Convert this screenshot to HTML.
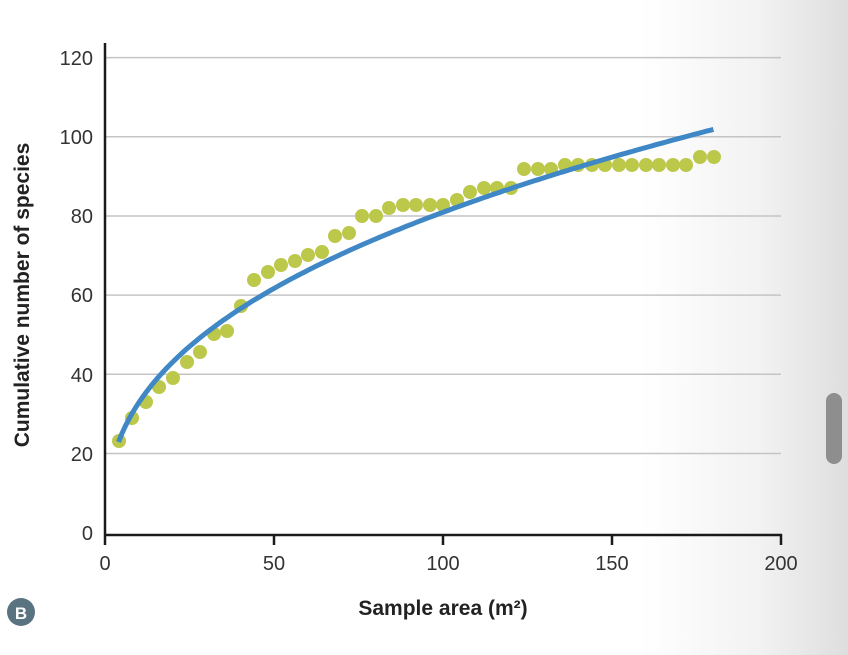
<!DOCTYPE html>
<html><head><meta charset="utf-8"><style>
html,body{margin:0;padding:0;}
body{width:848px;height:655px;overflow:hidden;background:linear-gradient(to right,#fff 0px,#fff 640px,#f2f2f2 760px,#dedede 848px);font-family:"Liberation Sans",sans-serif;}
</style></head><body>
<svg width="848" height="655" xmlns="http://www.w3.org/2000/svg" style="position:absolute;left:0;top:0">
<g stroke="#c4c4c4" stroke-width="1.5">
<line x1="105" x2="781" y1="453.5" y2="453.5"/>
<line x1="105" x2="781" y1="374.3" y2="374.3"/>
<line x1="105" x2="781" y1="295.1" y2="295.1"/>
<line x1="105" x2="781" y1="216" y2="216"/>
<line x1="105" x2="781" y1="136.8" y2="136.8"/>
<line x1="105" x2="781" y1="57.6" y2="57.6"/>
</g>
<g stroke="#1a1a1a" stroke-width="2.5" fill="none">
<line x1="105" y1="43" x2="105" y2="545"/>
<line x1="104" y1="535" x2="782" y2="535"/>
<line x1="274" y1="535" x2="274" y2="545"/>
<line x1="443" y1="535" x2="443" y2="545"/>
<line x1="612" y1="535" x2="612" y2="545"/>
<line x1="781" y1="534" x2="781" y2="545"/>
</g>
<g font-size="20" fill="#333" text-anchor="end">
<text x="93" y="540">0</text>
<text x="93" y="461">20</text>
<text x="93" y="382">40</text>
<text x="93" y="302">60</text>
<text x="93" y="223">80</text>
<text x="93" y="144">100</text>
<text x="93" y="65">120</text>
</g>
<g font-size="20" fill="#333" text-anchor="middle">
<text x="105" y="570">0</text>
<text x="274" y="570">50</text>
<text x="443" y="570">100</text>
<text x="612" y="570">150</text>
<text x="781" y="570">200</text>
</g>
<text x="443" y="615" font-size="21" font-weight="bold" fill="#222" text-anchor="middle">Sample area (m²)</text>
<text transform="translate(29,295) rotate(-90)" font-size="21" font-weight="bold" fill="#222" text-anchor="middle">Cumulative number of species</text>
<circle cx="21" cy="612" r="14" fill="#5a7380"/>
<text x="21" y="619" font-size="17" font-weight="bold" fill="#fff" text-anchor="middle">B</text>
<rect x="826" y="393" width="16" height="71" rx="8" fill="#8e8e8e"/>
<g fill="#bcc84a" id="pts"></g>
<path id="curve" fill="none" stroke="#3f88c5" stroke-width="5" stroke-linecap="butt"/>
</svg>
<script>
var pts=[[119,441],[132,418],[146,402],[159,387],[173,378],[187,362],[200,352],[214,334],[227,331],[241,306],[254,280],[268,272],[281,265],[295,261],[308,255],[322,252],[335,236],[349,233],[362,216],[376,216],[389,208],[403,205],[416,205],[430,205],[443,205],[457,200],[470,192],[484,188],[497,188],[511,188],[524,169],[538,169],[551,169],[565,165],[578,165],[592,165],[605,165],[619,165],[632,165],[646,165],[659,165],[673,165],[686,165],[700,157],[714,157]];
var g=document.getElementById('pts'),ns='http://www.w3.org/2000/svg';
pts.forEach(function(p){var c=document.createElementNS(ns,'circle');c.setAttribute('cx',p[0]);c.setAttribute('cy',p[1]);c.setAttribute('r',7);g.appendChild(c);});
var d='';for(var x=4;x<=180.5;x+=1){var y=13.38*Math.pow(x,0.391);var px=105+x*3.38,py=533-y*3.96;d+=(d?'L':'M')+px.toFixed(1)+' '+py.toFixed(1);}
document.getElementById('curve').setAttribute('d',d);
</script>
</body></html>
